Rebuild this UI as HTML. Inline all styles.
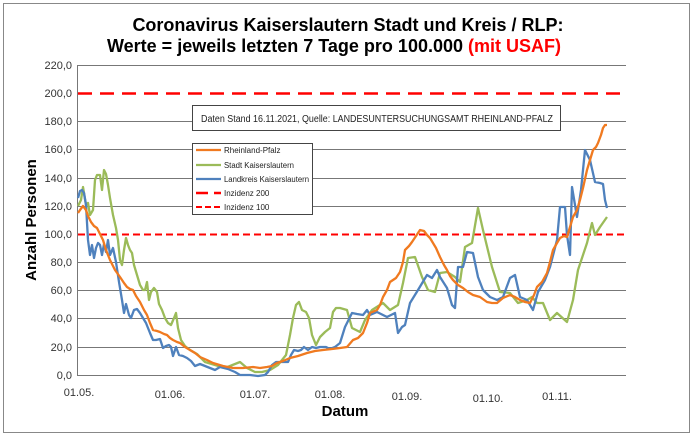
<!DOCTYPE html>
<html><head><meta charset="utf-8"><style>
body{margin:0;background:#fff;width:696px;height:435px;overflow:hidden}
svg{display:block}
text{font-family:"Liberation Sans",Arial,sans-serif}
</style></head><body>
<svg width="696" height="435" viewBox="0 0 696 435">
<rect x="0" y="0" width="696" height="435" fill="#fff"/>
<rect x="3.5" y="3.5" width="686" height="429" fill="none" stroke="#888" stroke-width="1"/>
<text x="348" y="31" font-size="18" font-weight="bold" text-anchor="middle">Coronavirus Kaiserslautern Stadt und Kreis / RLP:</text>
<text x="334" y="52" font-size="18" font-weight="bold" text-anchor="middle">Werte = jeweils letzten 7 Tage pro 100.000 <tspan fill="#f00">(mit USAF)</tspan></text>
<g stroke="#777" stroke-width="1">
<line x1="78" y1="65.5" x2="626" y2="65.5"/>
<line x1="78" y1="121.5" x2="626" y2="121.5"/>
<line x1="78" y1="149.5" x2="626" y2="149.5"/>
<line x1="78" y1="178.5" x2="626" y2="178.5"/>
<line x1="78" y1="206.5" x2="626" y2="206.5"/>
<line x1="78" y1="262.5" x2="626" y2="262.5"/>
<line x1="78" y1="290.5" x2="626" y2="290.5"/>
<line x1="78" y1="318.5" x2="626" y2="318.5"/>
<line x1="78" y1="347.5" x2="626" y2="347.5"/>
<line x1="78" y1="375.5" x2="626" y2="375.5"/>
<line x1="77.5" y1="65" x2="77.5" y2="376"/>
</g>
<g font-size="11" fill="#333" text-anchor="end">
<text x="72" y="69">220,0</text><text x="72" y="97">200,0</text><text x="72" y="125">180,0</text><text x="72" y="153">160,0</text><text x="72" y="182">140,0</text><text x="72" y="210">120,0</text><text x="72" y="238">100,0</text><text x="72" y="266">80,0</text><text x="72" y="294">60,0</text><text x="72" y="322">40,0</text><text x="72" y="351">20,0</text><text x="72" y="379">0,0</text>
</g>
<g font-size="11" fill="#333" text-anchor="middle">
<text x="79" y="396">01.05.</text><text x="170" y="398">01.06.</text><text x="255" y="398">01.07.</text><text x="330" y="398">01.08.</text><text x="407" y="400">01.09.</text><text x="488" y="402">01.10.</text><text x="557" y="400">01.11.</text>
</g>
<text x="345" y="416" font-size="15" font-weight="bold" text-anchor="middle">Datum</text>
<text transform="translate(36,220) rotate(-90)" font-size="15" font-weight="bold" text-anchor="middle">Anzahl Personen</text>
<line x1="78" y1="93.5" x2="626" y2="93.5" stroke="#f00" stroke-width="2.5" stroke-dasharray="14,8"/>
<line x1="78" y1="234.5" x2="626" y2="234.5" stroke="#f00" stroke-width="2" stroke-dasharray="7,4"/>
<g fill="none" stroke-width="2.3" stroke-linejoin="round">
<polyline stroke="#9bbb59" points="78,206 81,200 83,187 86,205 88,203 90,215 93,210 95,180 97,175 100,175 102,190 104,170 106,174 108,185 110,198 113,215 116,228 118,240 120,260 122,265 124,250 126,238 128,245 130,250 132,253 134,265 137,275 140,285 143,290 145,290 147,282 149,300 151,292 154,288 157,292 159,304 162,310 165,318 168,323 171,325 174,318 176,313 178,328 181,340 185,346 190,350 197,354 205,362 215,365 225,368 235,364 240,362 247,368 255,372 262,372 270,370 278,365 286,355 290,335 293,318 296,305 299,302 302,310 306,312 309,318 312,335 316,345 320,337 325,332 330,328 333,312 336,308 340,308 347,310 352,328 360,332 365,320 372,310 383,303 390,310 398,305 403,283 408,258 415,257 422,277 428,290 435,292 440,273 447,272 455,277 460,282 465,247 472,243 478,208 483,230 492,267 500,292 510,293 518,303 527,300 532,297 537,303 543,303 550,320 557,313 567,322 573,300 578,270 587,243 592,223 595,235 600,227 607,217"/>
<polyline stroke="#4f81bd" points="78,198 80,191 82,190 84,193 86,205 88,240 90,255 92,245 94,258 96,248 98,243 100,245 102,255 104,244 106,252 108,240 110,255 113,248 116,262 119,282 122,300 124,313 126,304 129,315 131,318 134,310 137,309 140,313 143,318 146,323 150,333 153,340 156,340 160,339 163,348 166,346 169,345 171,347 173,356 176,347 179,355 183,356 187,358 191,361 195,366 200,364 205,366 210,368 215,370 220,367 228,369 235,372 240,375 250,375 258,376 265,375 268,372 272,365 276,362 283,362 288,362 291,355 294,350 298,351 301,350 304,347 308,350 312,347 316,348 320,347 326,347 330,349 335,347 340,343 345,327 352,313 357,314 363,315 367,310 370,315 377,312 383,315 387,317 395,313 398,333 402,327 405,325 410,303 418,290 427,275 432,278 437,270 440,277 447,288 452,305 455,308 458,267 463,267 467,252 473,253 478,277 483,290 490,297 497,300 503,297 510,278 515,275 520,297 527,300 533,310 538,292 545,280 550,267 557,240 560,207 565,207 567,235 570,255 572,187 577,217 581,190 585,150 590,160 595,182 600,183 603,184 605,200 607,208"/>
<polyline stroke="#f07a20" points="78,213 80,210 83,206 86,210 88,216 91,222 94,226 97,228 100,234 103,240 106,250 110,260 115,270 120,277 124,283 127,287 130,289 133,290 136,296 140,302 144,310 147,315 150,323 153,330 157,331 160,332 164,334 167,335 170,338 173,340 177,342 180,343 185,347 190,350 195,353 200,357 207,360 213,363 223,366 233,368 243,368 253,367 260,368 267,367 272,366 277,363 283,361 290,358 298,356 307,353 315,351 323,350 332,349 340,348 347,347 353,340 358,338 363,333 367,323 370,313 377,310 380,305 383,297 387,290 390,282 396,278 400,272 403,262 405,250 409,246 412,242 416,236 420,230 424,231 427,235 430,238 433,243 436,248 440,257 444,265 447,270 450,276 453,280 458,285 463,288 468,292 473,295 480,297 487,302 492,303 497,303 503,298 510,295 515,297 520,300 525,302 530,303 534,295 537,287 542,282 547,273 550,262 553,250 557,243 560,238 564,236 567,237 570,227 573,217 577,210 580,200 583,188 587,170 590,160 593,150 596,147 598,143 601,135 603,128 605,125 607,125"/>
</g>
<rect x="192.5" y="105.5" width="368" height="25" fill="#fff" stroke="#444" stroke-width="1"/>
<text x="201" y="122" font-size="10" fill="#222" textLength="352" lengthAdjust="spacingAndGlyphs">Daten Stand 16.11.2021, Quelle: LANDESUNTERSUCHUNGSAMT RHEINLAND-PFALZ</text>
<rect x="192.5" y="143.5" width="120" height="71" fill="#fff" stroke="#444" stroke-width="1"/>
<g font-size="8" fill="#222">
<line x1="196" y1="150" x2="221" y2="150" stroke="#f07a20" stroke-width="2.3"/><text x="224" y="153">Rheinland-Pfalz</text>
<line x1="196" y1="165" x2="221" y2="165" stroke="#9bbb59" stroke-width="2.3"/><text x="224" y="168" textLength="70" lengthAdjust="spacingAndGlyphs">Stadt Kaiserslautern</text>
<line x1="196" y1="179" x2="221" y2="179" stroke="#4f81bd" stroke-width="2.3"/><text x="224" y="182" textLength="85" lengthAdjust="spacingAndGlyphs">Landkreis Kaiserslautern</text>
<line x1="196" y1="193" x2="221" y2="193" stroke="#f00" stroke-width="2.5" stroke-dasharray="12,6"/><text x="224" y="196">Inzidenz 200</text>
<line x1="196" y1="207" x2="221" y2="207" stroke="#f00" stroke-width="2" stroke-dasharray="6,3"/><text x="224" y="210">Inzidenz 100</text>
</g>
</svg>
</body></html>
